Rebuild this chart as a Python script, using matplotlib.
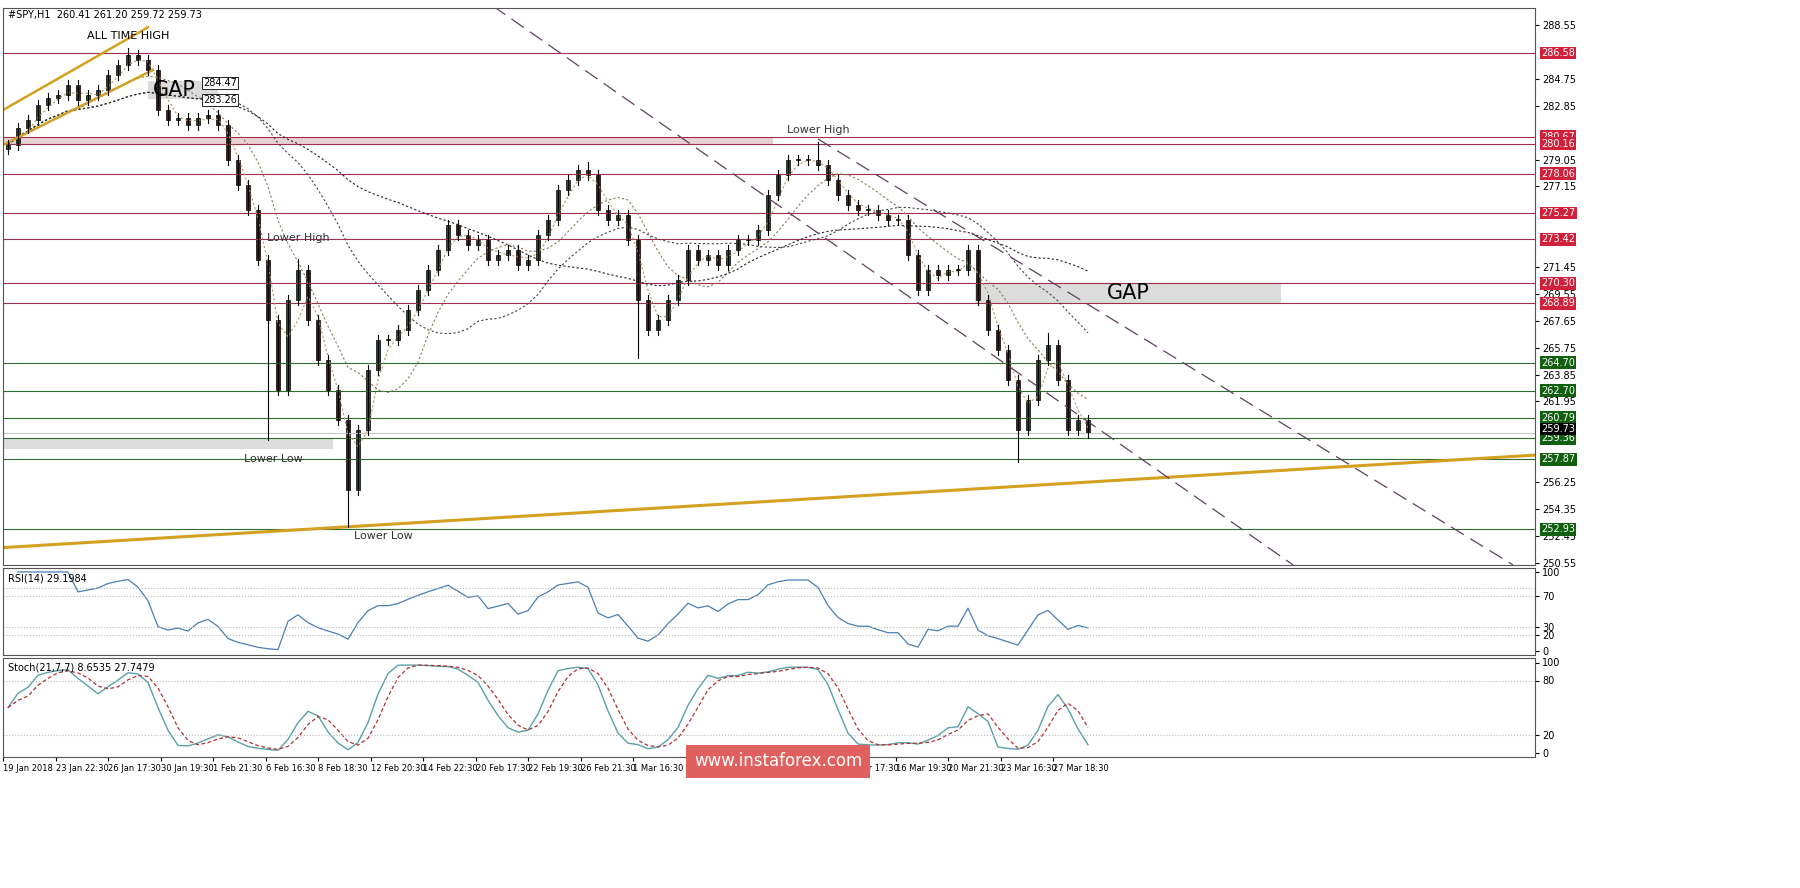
import numpy as np
import pandas as pd
import matplotlib.pyplot as plt
from matplotlib.patches import Rectangle

# === data (one close every 10 px, approx. 3 hourly bars)
closes = [280.08, 281.28, 281.85, 282.91, 283.40, 283.61, 284.32, 283.26, 283.61, 283.97,
          285.03, 285.73, 286.44, 286.09, 285.38, 282.55, 281.85, 281.99, 281.49, 281.99,
          282.20, 281.49, 279.02, 277.25, 275.49, 271.95, 267.71, 262.76, 269.12, 271.24,
          267.71, 264.88, 262.76, 260.64, 255.70, 259.94, 264.18, 266.30, 266.30, 267.00,
          268.42, 269.83, 271.24, 272.66, 274.42, 273.72, 273.01, 273.36, 271.95, 272.30,
          272.66, 271.60, 271.95, 273.72, 274.78, 276.90, 277.61, 278.31, 277.96, 275.49,
          274.78, 275.13, 273.36, 269.12, 267.00, 267.71, 269.12, 270.54, 272.66, 271.95,
          272.30, 271.60, 272.66, 273.36, 273.36, 274.07, 276.54, 277.96, 279.02, 279.02,
          279.02, 278.67, 277.61, 276.54, 275.84, 275.49, 275.49, 275.13, 274.78, 274.78,
          272.30, 269.83, 271.24, 270.89, 271.24, 271.24, 272.66, 269.12, 267.00, 265.59,
          263.47, 259.94, 262.06, 264.88, 265.94, 263.47, 259.94, 260.64, 259.73]
spike_lows = {26: 259.2, 34: 253.1, 101: 257.7, 63: 265.0}
spike_highs = {12: 286.9, 29: 272.0, 58: 278.9, 81: 280.3, 104: 266.8}

res_levels = [286.58, 280.67, 280.16, 278.06, 275.27, 273.42, 270.30, 268.89]
sup_levels = [264.70, 262.70, 260.79, 259.36, 257.87, 252.93]
price_ticks = [288.55, 284.75, 282.85, 279.05, 277.15, 271.45, 269.55, 267.65,
               265.75, 263.85, 261.95, 256.25, 254.35, 252.45, 250.55]
time_labels = ["19 Jan 2018", "23 Jan 22:30", "26 Jan 17:30", "30 Jan 19:30", "1 Feb 21:30",
               "6 Feb 16:30", "8 Feb 18:30", "12 Feb 20:30", "14 Feb 22:30", "20 Feb 17:30",
               "22 Feb 19:30", "26 Feb 21:30", "1 Mar 16:30", "5 Mar 18:30", "7 Mar 19:30",
               "9 Mar 15:30", "13 Mar 17:30", "16 Mar 19:30", "20 Mar 21:30", "23 Mar 16:30",
               "27 Mar 18:30"]

# trend lines as (x0, p0, x1, p1)
gold_main = (0, 251.62, 1535, 258.17)
gold_ch = [(0, 282.55, 145, 288.4), (0, 280.08, 150, 285.38)]
dash_lines = [(490, 289.9, 1290, 250.4), (815, 280.5, 1510, 250.4)]

last = closes[-1]
xs = np.arange(len(closes)) * 10.0 + 5

fig = plt.figure(figsize=(18, 8.88), dpi=100)
W, H = 1800, 888
def ax_at(x0, y0, x1, y1):
    return fig.add_axes([x0 / W, 1 - y1 / H, (x1 - x0) / W, (y1 - y0) / H])

ax = ax_at(3, 8, 1535, 565)
ax_r = ax_at(3, 568, 1535, 655)
ax_s = ax_at(3, 658, 1535, 757)
for a in (ax, ax_r, ax_s):
    a.set_xlim(0, 1532)
    a.yaxis.tick_right()
    a.tick_params(axis='y', labelsize=7, length=3, pad=2)
    a.set_xticks([])
    for s in a.spines.values():
        s.set_color('#555555')

ax.set_ylim(250.39, 289.76)
ax.set_yticks(price_ticks)
ax.set_yticklabels([f"{t:.2f}" for t in price_ticks])

# levels
for lv in res_levels:
    ax.axhline(lv, color='#a0304a', lw=0.8)
    ax.text(1538, lv, f"{lv:.2f}", fontsize=7, color='white', va='center', clip_on=False,
            bbox=dict(boxstyle='square,pad=0.15', fc='#d0203a', ec='none'))
for lv in sup_levels:
    ax.axhline(lv, color='#2e6b2e', lw=0.8)
    ax.text(1538, lv, f"{lv:.2f}", fontsize=7, color='white', va='center', clip_on=False,
            bbox=dict(boxstyle='square,pad=0.15', fc='#106010', ec='none'))
ax.axhline(last, color='#c8c8c8', lw=0.8)
ax.text(1538, last + 0.3, f"{last:.2f}", fontsize=7, color='white', va='center', clip_on=False,
        bbox=dict(boxstyle='square,pad=0.1', fc='black', ec='none'))

# zones
ax.add_patch(Rectangle((0, 280.16), 770, 0.51, fc='#e8d0d4', ec='none', zorder=0))
ax.add_patch(Rectangle((0, 258.6), 330, 0.8, fc='#dcdcdc', ec='none', zorder=0))
ax.add_patch(Rectangle((145, 283.3), 70, 1.3, fc='#dcdcdc', ec='none', zorder=0))
ax.add_patch(Rectangle((972, 268.89), 306, 1.41, fc='#dcdcdc', ec='none', zorder=0))
ax.text(150, 283.95, "GAP", fontsize=15, va='center')
ax.text(1125, 269.6, "GAP", fontsize=15, va='center', ha='center')
ax.text(200, 284.47, "284.47", fontsize=7, va='center',
        bbox=dict(boxstyle='square,pad=0.1', fc='white', ec='black', lw=0.6))
ax.text(200, 283.26, "283.26", fontsize=7, va='center',
        bbox=dict(boxstyle='square,pad=0.1', fc='white', ec='black', lw=0.6))

# moving averages
cs = pd.Series(closes)
for win, col in [(3, '#b09a6a'), (8, '#8a7a5a'), (20, '#444444'), (40, '#222222')]:
    ax.plot(xs, cs.rolling(win, min_periods=1).mean(), ls=(0, (2, 2)), lw=0.8, color=col)

# trend lines
x0, p0, x1, p1 = gold_main
ax.plot([x0, x1], [p0, p1], color='#d4a020', lw=2.2)
for x0, p0, x1, p1 in gold_ch:
    ax.plot([x0, x1], [p0, p1], color='#d4a020', lw=1.8)
for x0, p0, x1, p1 in dash_lines:
    ax.plot([x0, x1], [p0, p1], color='#604060', lw=0.9, ls=(0, (12, 6)))

# candles
opens = [closes[0] - 0.3] + closes[:-1]
for i, (x, o, c) in enumerate(zip(xs, opens, closes)):
    hi = spike_highs.get(i, max(o, c) + 0.35)
    lo = spike_lows.get(i, min(o, c) - 0.35)
    ax.plot([x, x], [lo, hi], color='black', lw=0.8)
    col = '#1a5a1a' if c >= o else '#7a0a0a'
    ax.add_patch(Rectangle((x - 2, min(o, c)), 4, max(abs(c - o), 0.08), fc=col, ec='black', lw=0.5))

ax.text(125, 287.6, "ALL TIME HIGH", fontsize=8, ha='center')
ax.text(295, 273.3, "Lower High", fontsize=8, ha='center', color='#333333')
ax.text(270, 257.7, "Lower Low", fontsize=8, ha='center', color='#333333')
ax.text(380, 252.2, "Lower Low", fontsize=8, ha='center', color='#333333')
ax.text(815, 280.9, "Lower High", fontsize=8, ha='center', color='#333333')
ax.text(5, 289.3, f"#SPY,H1  260.41 261.20 259.72 {last:.2f}", fontsize=7, va='center')

# RSI
d = cs.diff()
up = d.clip(lower=0).ewm(alpha=1 / 5, adjust=False).mean()
dn = (-d.clip(upper=0)).ewm(alpha=1 / 5, adjust=False).mean()
rsi = 100 - 100 / (1 + up / dn.replace(0, 1e-9))
ax_r.plot(xs, rsi, color='#4a7fb0', lw=0.9)
ax_r.set_ylim(-5, 105)
ax_r.set_yticks([100, 70, 30, 20, 0])
for lv in (80, 70, 30, 20):
    ax_r.axhline(lv, color='#bbbbbb', ls=':', lw=0.8)
ax_r.text(5, 92, f"RSI(14) {rsi.iloc[-1]:.4f}", fontsize=7, va='center')

# Stochastic
hh = cs.rolling(7, min_periods=1).max() + 0.35
ll = cs.rolling(7, min_periods=1).min() - 0.35
k = (100 * (cs - ll) / (hh - ll)).rolling(3, min_periods=1).mean()
dd = k.rolling(3, min_periods=1).mean()
ax_s.plot(xs, k, color='#5aa0a8', lw=1.0)
ax_s.plot(xs, dd, color='#b03030', lw=0.9, ls=(0, (3, 2)))
ax_s.set_ylim(-5, 105)
ax_s.set_yticks([100, 80, 20, 0])
for lv in (80, 20):
    ax_s.axhline(lv, color='#bbbbbb', ls=':', lw=0.8)
ax_s.text(5, 95, f"Stoch(21,7,7) {k.iloc[-1]:.4f} {dd.iloc[-1]:.4f}", fontsize=7, va='center')

tick_x = [52.5 * i for i in range(len(time_labels))]
ax_s.set_xticks(tick_x)
ax_s.set_xticklabels(time_labels, fontsize=6, ha='left')
ax_s.tick_params(axis='x', length=3, pad=2)

fig.text(778 / W, 1 - 761 / H, "www.instaforex.com", fontsize=12, color='white',
         ha='center', va='center', zorder=10,
         bbox=dict(boxstyle='square,pad=0.45', fc='#e06060', ec='none'))

fig.savefig('out.png', dpi=100)
